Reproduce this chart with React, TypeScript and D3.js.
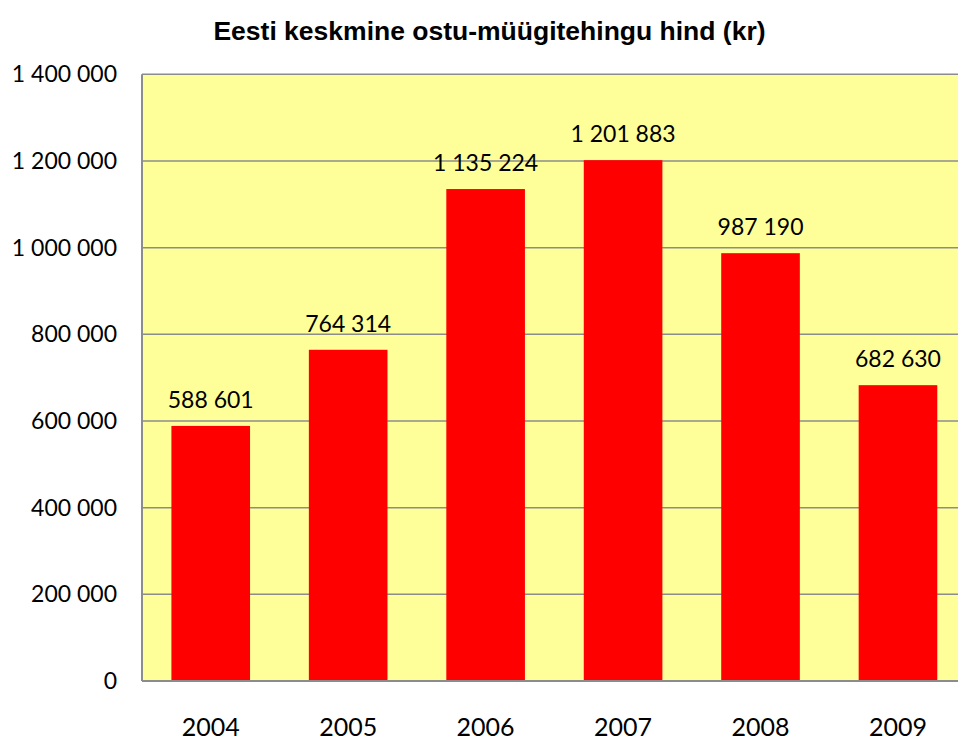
import { useEffect, useRef } from 'react';
import * as d3 from 'd3';

const years = ['2004', '2005', '2006', '2007', '2008', '2009'];
const prices = [588601, 764314, 1135224, 1201883, 987190, 682630];
const yTicks = [0, 200000, 400000, 600000, 800000, 1000000, 1200000, 1400000];
const title = 'Eesti keskmine ostu-müügitehingu hind (kr)';

// 1 400 000 style
const fmt = (v: number) => d3.format(',')(v).replace(/,/g, ' ');

const App = () => {
  const svgRef = useRef<SVGSVGElement | null>(null);

  useEffect(() => {
    const svg = d3.select(svgRef.current);
    svg.selectAll('*').remove();

    const W = 958, H = 740;
    const left = 142, top = 74.3, bottom = 681, right = 966.7;

    const x = d3.scaleBand().domain(years).range([left, right]).paddingInner(0.428).paddingOuter(0.214);
    const y = d3.scaleLinear().domain([0, 1400000]).range([bottom, top]);

    svg.attr('width', W).attr('height', H);

    // plot area
    svg.append('rect')
      .attr('x', left).attr('y', top)
      .attr('width', right - left).attr('height', bottom - top)
      .attr('fill', '#ffff99');

    // gridlines
    svg.append('g').selectAll('line').data(yTicks).join('line')
      .attr('x1', left).attr('x2', right)
      .attr('y1', d => y(d)).attr('y2', d => y(d))
      .attr('stroke', '#8c8c8c').attr('stroke-width', 1.5);

    // bars
    svg.append('g').selectAll('rect').data(prices).join('rect')
      .attr('x', (_, i) => x(years[i])!)
      .attr('y', d => y(d))
      .attr('width', x.bandwidth())
      .attr('height', d => bottom - y(d))
      .attr('fill', '#ff0000');

    // axis lines
    svg.append('line').attr('x1', left).attr('x2', left).attr('y1', top).attr('y2', bottom)
      .attr('stroke', '#8c8c8c').attr('stroke-width', 2);
    svg.append('line').attr('x1', left).attr('x2', right).attr('y1', bottom).attr('y2', bottom)
      .attr('stroke', '#8c8c8c').attr('stroke-width', 2);

    // y tick labels
    svg.append('g').selectAll('text').data(yTicks).join('text')
      .attr('x', 117).attr('y', d => y(d) + 8)
      .attr('text-anchor', 'end')
      .attr('font-family', 'Lato, sans-serif').attr('font-size', 23)
      .attr('fill', '#000')
      .text(d => fmt(d));

    // year labels
    svg.append('g').selectAll('text').data(years).join('text')
      .attr('x', d => x(d)! + x.bandwidth() / 2).attr('y', 736)
      .attr('text-anchor', 'middle')
      .attr('font-family', 'Lato, sans-serif').attr('font-size', 25)
      .attr('fill', '#000')
      .text(d => d);

    // value labels
    svg.append('g').selectAll('text').data(prices).join('text')
      .attr('x', (_, i) => x(years[i])! + x.bandwidth() / 2)
      .attr('y', d => y(d) - 18)
      .attr('text-anchor', 'middle')
      .attr('font-family', 'Lato, sans-serif').attr('font-size', 23)
      .attr('fill', '#000')
      .text(d => fmt(d));

    // title
    svg.append('text')
      .attr('x', 489.5).attr('y', 40)
      .attr('text-anchor', 'middle')
      .attr('font-family', '"Liberation Sans", Arial, sans-serif')
      .attr('font-weight', 'bold').attr('font-size', 26.5)
      .attr('fill', '#000')
      .text(title);
  }, []);

  return (
    <div style={{ position: 'absolute', left: 0, top: 0 }}>
      <svg ref={svgRef} style={{ display: 'block' }} />
    </div>
  );
};

export default App;
